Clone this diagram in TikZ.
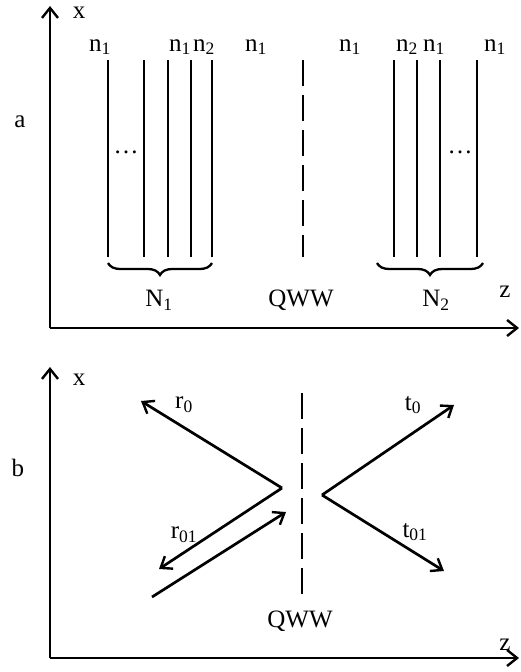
\documentclass[tikz,border=0pt]{standalone}
\usepackage{fontspec}
\setmainfont{Liberation Serif}
\usetikzlibrary{arrows.meta,decorations.pathreplacing}

\begin{document}
\begin{tikzpicture}[x=1pt, y=-1pt,
    every node/.style={font=\fontsize{25}{29}\selectfont, inner sep=1pt},
    axis/.style={line width=2.8pt, -{Straight Barb[length=10pt,width=16pt,line width=2.4pt]}},
    layer/.style={line width=2.7pt},
    qww/.style={line width=2.6pt, dash pattern=on 26pt off 9pt},
    wave/.style={line width=2.7pt, -{Straight Barb[length=10pt,width=15pt,line width=2.4pt]}},
    group/.style={decorate, decoration={brace, amplitude=12pt, mirror}, line width=2.3pt}
]
\useasboundingbox (0,0) rectangle (520,672);

% panel a
\coordinate (oa) at (50,328);
\coordinate (xtopa) at (50,6);
\coordinate (zenda) at (519,328);
\draw[axis] (oa) -- (xtopa);
\draw[axis] (oa) -- (zenda);
\node (xa) at (79,13) {x};
\node (za) at (505,292) {z};
\node (lbla) at (20,122) {a};

\foreach \z in {108,144,168,191,212,394,417,440,477}
    \draw[layer] (\z,60) -- (\z,257);
\draw[qww] (303,60) -- (303,257);

\node (n1a) at (100,47) {n\textsubscript{1}};
\node (n1b) at (180,47) {n\textsubscript{1}};
\node (n2a) at (204,47) {n\textsubscript{2}};
\node (n1c) at (256,47) {n\textsubscript{1}};
\node (n1d) at (350,47) {n\textsubscript{1}};
\node (n2b) at (407,47) {n\textsubscript{2}};
\node (n1e) at (434,47) {n\textsubscript{1}};
\node (n1f) at (495,47) {n\textsubscript{1}};

\node (dotsa) at (126,152) {\dots};
\node (dotsb) at (460,152) {\dots};

\draw[group] (108,263) -- (212,263);
\draw[group] (377,263) -- (483,263);
\node (N1) at (159,300) {N\textsubscript{1}};
\node (qwwa) at (301,300) {QWW};
\node (N2) at (436,300) {N\textsubscript{2}};

% panel b
\coordinate (ob) at (50,658);
\coordinate (xtopb) at (50,367);
\coordinate (zendb) at (519,658);
\draw[axis] (ob) -- (xtopb);
\draw[axis] (ob) -- (zendb);
\node (xb) at (79,380) {x};
\node (zb) at (505,645) {z};
\node (lblb) at (18,468) {b};

\draw[qww] (302,393) -- (302,596);
\node (qwwb) at (300,621) {QWW};

\coordinate (vl) at (282,488);
\coordinate (vr) at (322,495);
\coordinate (r0) at (141,401);
\coordinate (r01) at (159,569);
\coordinate (inc) at (152,597);
\coordinate (incend) at (286,512);
\coordinate (t0) at (454,405);
\coordinate (t01) at (444,571);

\draw[wave] (vl) -- (r0);
\draw[wave] (vl) -- (r01);
\draw[wave] (inc) -- (incend);
\draw[wave] (vr) -- (t0);
\draw[wave] (vr) -- (t01);

\node (lr0) at (184,405) {r\textsubscript{0}};
\node (lr01) at (184,535) {r\textsubscript{01}};
\node (lt0) at (413,405) {t\textsubscript{0}};
\node (lt01) at (415,532) {t\textsubscript{01}};
\end{tikzpicture}
\end{document}
